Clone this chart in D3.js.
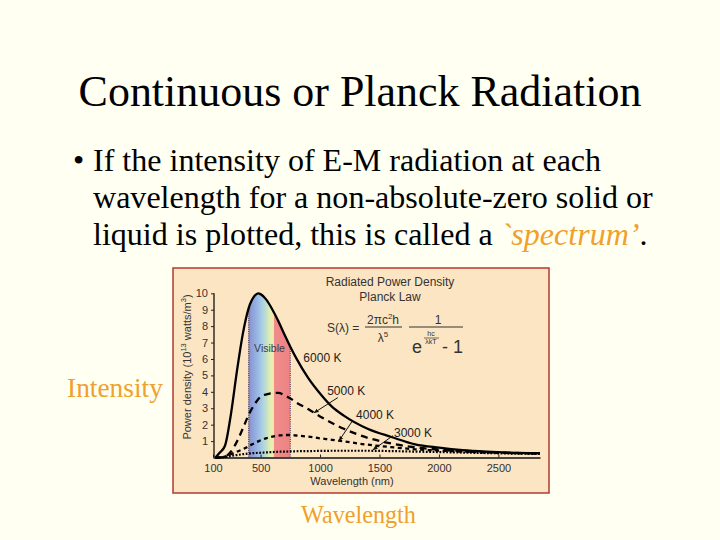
<!DOCTYPE html>
<html>
<head>
<meta charset="utf-8">
<script src="https://cdn.jsdelivr.net/npm/d3@7"></script>
<style>
  html, body { margin: 0; padding: 0; background: #FFFFF2; }
  svg { display: block; }
</style>
</head>
<body>
<svg id="slide" width="720" height="540"></svg>
<script>
// ---------- data ----------
const titleText = "Continuous or Planck Radiation";
const bodyLines = [
  "If the intensity of E-M radiation at each",
  "wavelength for a non-absolute-zero solid or",
  "liquid is plotted, this is called a "
];
const highlightWord = "`spectrum’";
const yAxisSideLabel = "Intensity";
const xAxisSideLabel = "Wavelength";

const chartTitle = ["Radiated Power Density", "Planck Law"];
const xTickValues = [100, 500, 1000, 1500, 2000, 2500];
const yTickValues = [1, 2, 3, 4, 5, 6, 7, 8, 9, 10];
const xLabel = "Wavelength (nm)";

const wavelengths = [120,150,200,250,300,350,400,450,480,500,550,600,650,700,750,800,900,1000,1100,1200,1400,1600,1800,2000,2200,2400,2600,2850];
const power6000 = [0,0.25,0.7,2.6,5.2,7.5,9.1,9.85,10.0,9.95,9.6,9.0,8.3,7.5,6.75,6.05,4.85,3.9,3.1,2.55,1.75,1.25,0.8,0.6,0.45,0.36,0.3,0.26];
const power5000 = [0,0,0.05,0.35,0.95,1.75,2.6,3.25,3.55,3.7,3.85,3.92,3.94,3.8,3.6,3.35,2.95,2.5,2.1,1.75,1.2,0.85,0.62,0.48,0.38,0.32,0.28,0.25];
const power4000 = [0,0,0.05,0.2,0.35,0.5,0.68,0.88,0.98,1.05,1.18,1.27,1.33,1.37,1.37,1.34,1.27,1.17,1.08,0.98,0.78,0.63,0.5,0.42,0.36,0.31,0.27,0.24];
const power3000 = [0,0,0.03,0.1,0.15,0.2,0.24,0.27,0.28,0.29,0.31,0.33,0.35,0.36,0.37,0.38,0.39,0.4,0.41,0.41,0.41,0.39,0.36,0.33,0.3,0.27,0.24,0.22];
const seriesNames = ["6000 K", "5000 K", "4000 K", "3000 K"];
const visibleRange = [400, 750];

// ---------- layout ----------
const svg = d3.select("#slide");
const SERIF = "'Times New Roman','Liberation Serif',Times,serif";
const SANS = "'Liberation Sans',Arial,Helvetica,sans-serif";
const ORANGE = "#F0A02C";

function fitWidth(sel, target) {
  const w = sel.node().getComputedTextLength();
  const fs = parseFloat(sel.attr("font-size"));
  const nfs = fs * target / w;
  sel.attr("font-size", nfs);
  return nfs;
}

// title
const title = svg.append("text").attr("x", 360).attr("y", 106)
  .attr("text-anchor", "middle").attr("font-family", SERIF).attr("font-size", 40)
  .attr("fill", "#000").text(titleText);
fitWidth(title, 563);

// bullet text
const probe = svg.append("text").attr("font-family", SERIF).attr("font-size", 28).text(bodyLines[1]);
const bodySize = fitWidth(probe, 560);
probe.remove();
const baselines = [171, 208, 245];
svg.append("text").attr("x", 73).attr("y", baselines[0]).attr("font-family", SERIF)
  .attr("font-size", bodySize).text("•");
bodyLines.forEach((t, i) => {
  const tx = svg.append("text").attr("x", 93).attr("y", baselines[i])
    .attr("font-family", SERIF).attr("font-size", bodySize).attr("fill", "#000").text(t);
  if (i === 2) {
    tx.append("tspan").attr("font-style", "italic").attr("fill", ORANGE).text(highlightWord);
    tx.append("tspan").text(".");
  }
});

// side labels
const il = svg.append("text").attr("x", 67).attr("y", 397).attr("font-family", SERIF)
  .attr("font-size", 22).attr("fill", ORANGE).text(yAxisSideLabel);
fitWidth(il, 96);
const wl = svg.append("text").attr("x", 301).attr("y", 523).attr("font-family", SERIF)
  .attr("font-size", 22).attr("fill", ORANGE).text(xAxisSideLabel);
fitWidth(wl, 115);

// ---------- chart box ----------
svg.append("rect").attr("x", 173).attr("y", 268).attr("width", 376).attr("height", 225)
  .attr("fill", "#FCE5C2").attr("stroke", "#B33A30").attr("stroke-width", 1.5);

const x = d3.scaleLinear().domain([100, 2850]).range([213, 540]);
const y = d3.scaleLinear().domain([0, 10]).range([457.5, 293.3]);

const defs = svg.append("defs");
const series = [power6000, power5000, power4000, power3000].map((vals, i) => ({
  name: seriesNames[i],
  pts: wavelengths.map((w, j) => [w, vals[j]])
}));

// clip under 6000 K curve
const area = d3.area().x(d => x(d[0])).y0(y(0)).y1(d => y(d[1])).curve(d3.curveMonotoneX);
defs.append("clipPath").attr("id", "under6000").append("path").attr("d", area(series[0].pts));

// visible gradient
const grad = defs.append("linearGradient").attr("id", "vis")
  .attr("gradientUnits", "userSpaceOnUse")
  .attr("x1", x(visibleRange[0])).attr("x2", x(visibleRange[1])).attr("y1", 0).attr("y2", 0);
const stops = [
  [400, "#6E6EB0"], [410, "#8A96D0"], [460, "#94B0E2"], [510, "#A8CCE6"],
  [555, "#C6E4C4"], [585, "#E8F0AE"], [612, "#F4E6AA"], [615, "#F08C8C"], [750, "#EF8282"]
];
stops.forEach(([w, c]) => {
  grad.append("stop").attr("offset", (w - visibleRange[0]) / (visibleRange[1] - visibleRange[0]))
    .attr("stop-color", c);
});
const gVis = svg.append("g").attr("clip-path", "url(#under6000)");
gVis.append("rect").attr("x", x(visibleRange[0])).attr("width", x(visibleRange[1]) - x(visibleRange[0]))
  .attr("y", y(10.5)).attr("height", y(0) - y(10.5)).attr("fill", "url(#vis)");
visibleRange.forEach(w => {
  gVis.append("line").attr("x1", x(w)).attr("x2", x(w)).attr("y1", y(0)).attr("y2", y(10.5))
    .attr("stroke", "#5a4a6a").attr("stroke-width", 1.2).attr("stroke-dasharray", "1,1.2");
});
svg.append("text").attr("x", x(575)).attr("y", y(6.45)).attr("text-anchor", "middle")
  .attr("font-family", SANS).attr("font-size", 10.5).attr("fill", "#3a3a4a").text("Visible");

// axes
const xAxis = d3.axisBottom(x).tickValues(xTickValues).tickFormat(d3.format("d"))
  .tickSizeInner(-3).tickSizeOuter(0).tickPadding(7);
const gx = svg.append("g").attr("transform", `translate(0,${y(0)})`).call(xAxis);
const yAxis = d3.axisLeft(y).tickValues(yTickValues).tickFormat(d3.format("d"))
  .tickSize(3).tickSizeOuter(0).tickPadding(3);
const gy = svg.append("g").attr("transform", `translate(${x(100) + 1},0)`).call(yAxis);
gy.select(".domain").attr("d", `M0,${y(0)}V${y(10)}`);
[gx, gy].forEach(g => {
  g.selectAll("text").attr("font-family", SANS).attr("font-size", 11).attr("fill", "#333");
  g.selectAll("line").attr("stroke", "#222");
  g.select(".domain").attr("stroke", "#111").attr("stroke-width", 1.3);
});

svg.append("text").attr("x", 352).attr("y", 485).attr("text-anchor", "middle")
  .attr("font-family", SANS).attr("font-size", 11).attr("fill", "#333").text(xLabel);

const yl = svg.append("text").attr("transform", "translate(191,367) rotate(-90)")
  .attr("text-anchor", "middle").attr("font-family", SANS).attr("font-size", 11).attr("fill", "#333");
yl.append("tspan").text("Power density (10");
yl.append("tspan").attr("font-size", 7.5).attr("dy", -5).text("13");
yl.append("tspan").attr("dy", 5).text(" watts/m");
yl.append("tspan").attr("font-size", 7.5).attr("dy", -5).text("3");
yl.append("tspan").attr("dy", 5).text(")");

// curves
const line = d3.line().x(d => x(d[0])).y(d => y(d[1])).curve(d3.curveMonotoneX);
const styles = [
  { dash: null, w: 2.3 },
  { dash: "7,5", w: 2.3 },
  { dash: "4,3.5", w: 2.3 },
  { dash: "1.8,1.6", w: 2.2 }
];
series.slice().reverse().forEach((s, ri) => {
  const st = styles[3 - ri];
  svg.append("path").attr("d", line(s.pts)).attr("fill", "none").attr("stroke", "#000")
    .attr("stroke-width", st.w).attr("stroke-dasharray", st.dash);
});

// chart title & formula
svg.append("text").attr("x", 390).attr("y", 286).attr("text-anchor", "middle")
  .attr("font-family", SANS).attr("font-size", 12).attr("fill", "#333").text(chartTitle[0]);
svg.append("text").attr("x", 390).attr("y", 301).attr("text-anchor", "middle")
  .attr("font-family", SANS).attr("font-size", 12).attr("fill", "#333").text(chartTitle[1]);

const F = svg.append("g").attr("font-family", SANS).attr("fill", "#333");
F.append("text").attr("x", 327).attr("y", 332).attr("font-size", 12).text("S(λ) =");
const num = F.append("text").attr("x", 383).attr("y", 324).attr("text-anchor", "middle").attr("font-size", 12);
num.append("tspan").text("2πc");
num.append("tspan").attr("font-size", 8).attr("dy", -5).text("2");
num.append("tspan").attr("dy", 5).text("h");
F.append("line").attr("x1", 365).attr("x2", 402).attr("y1", 327).attr("y2", 327).attr("stroke", "#333").attr("stroke-width", 1);
const den = F.append("text").attr("x", 383).attr("y", 342).attr("text-anchor", "middle").attr("font-size", 12);
den.append("tspan").text("λ");
den.append("tspan").attr("font-size", 8).attr("dy", -5).text("5");
F.append("text").attr("x", 438).attr("y", 324).attr("text-anchor", "middle").attr("font-size", 12).text("1");
F.append("line").attr("x1", 409).attr("x2", 463).attr("y1", 327).attr("y2", 327).attr("stroke", "#333").attr("stroke-width", 1);
F.append("text").attr("x", 412).attr("y", 353).attr("font-size", 18).text("e");
F.append("text").attr("x", 431).attr("y", 336).attr("text-anchor", "middle").attr("font-size", 7).text("hc");
F.append("line").attr("x1", 424).attr("x2", 439).attr("y1", 338).attr("y2", 338).attr("stroke", "#333").attr("stroke-width", 0.7);
F.append("text").attr("x", 431).attr("y", 344).attr("text-anchor", "middle").attr("font-size", 7).text("λkT");
F.append("text").attr("x", 442).attr("y", 353).attr("font-size", 18).text("- 1");

// series labels + pointers
defs.append("marker").attr("id", "arr").attr("viewBox", "0 0 10 10").attr("refX", 9).attr("refY", 5)
  .attr("markerWidth", 5).attr("markerHeight", 5).attr("orient", "auto")
  .append("path").attr("d", "M0,1L10,5L0,9z").attr("fill", "#111");
const labels = [
  { t: seriesNames[0], at: [860, 5.8], from: null, to: null },
  { t: seriesNames[1], at: [1060, 3.8], from: [1150, 3.65], to: [950, 2.72] },
  { t: seriesNames[2], at: [1303, 2.35], from: [1270, 2.2], to: [1160, 1.02] },
  { t: seriesNames[3], at: [1622, 1.25], from: [1614, 1.33], to: [1446, 0.47] }
];
labels.forEach(l => {
  svg.append("text").attr("x", x(l.at[0])).attr("y", y(l.at[1])).attr("font-family", SANS)
    .attr("font-size", 12).attr("fill", "#222").text(l.t);
  if (l.from) {
    svg.append("line").attr("x1", x(l.from[0])).attr("y1", y(l.from[1]))
      .attr("x2", x(l.to[0])).attr("y2", y(l.to[1])).attr("stroke", "#111").attr("stroke-width", 1)
      .attr("marker-end", "url(#arr)");
  }
});
</script>
</body>
</html>
